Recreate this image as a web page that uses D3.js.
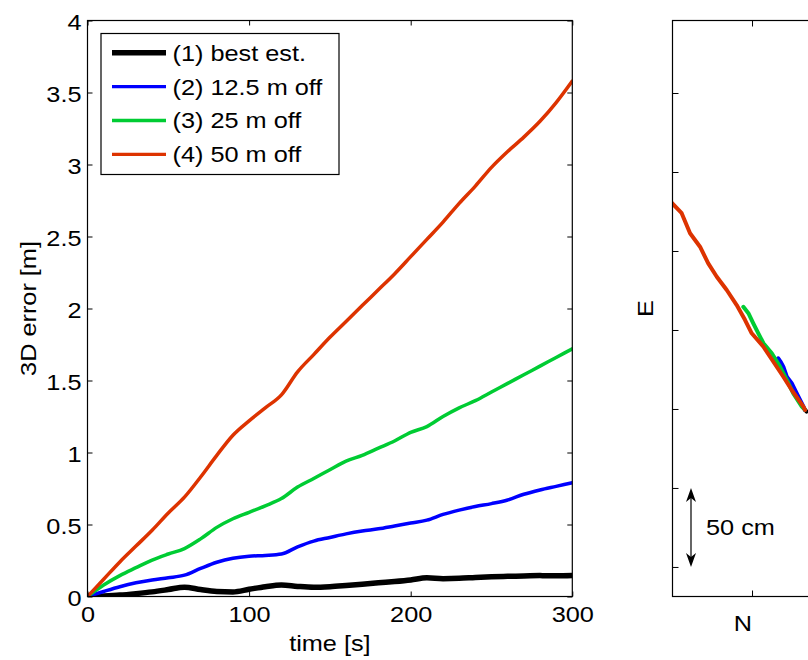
<!DOCTYPE html>
<html>
<head>
<meta charset="utf-8">
<script src="https://cdn.jsdelivr.net/npm/d3@7"></script>
<style>
  body { margin: 0; background: #fff; }
  svg { display: block; }
  text { font-family: "Liberation Sans", Arial, sans-serif; font-size: 22px; fill: #000; }
  .axis path { display: none; }
  .axis line { stroke: #000; stroke-width: 1; }
  .frame { fill: none; stroke: #000; stroke-width: 1.2; }
  .line { fill: none; stroke-linejoin: round; stroke-linecap: round; }
</style>
</head>
<body>
<div id="chart"></div>
<script>
// ---- left panel: 3D error over time ----
const times = [0, 10, 20, 30, 40, 50, 60, 70, 80, 90, 100, 110, 120, 130, 140, 150,
               160, 170, 180, 190, 200, 210, 220, 230, 240, 250, 260, 270, 280, 290, 300];
const errBest = [0, 0.004, 0.01, 0.02, 0.032, 0.048, 0.065, 0.048, 0.035, 0.032, 0.05, 0.068, 0.08, 0.07, 0.064, 0.068,
                 0.076, 0.085, 0.095, 0.104, 0.115, 0.13, 0.124, 0.126, 0.132, 0.137, 0.14, 0.142, 0.145, 0.144, 0.146];
const err12 = [0, 0.035, 0.068, 0.095, 0.115, 0.13, 0.148, 0.195, 0.238, 0.266, 0.28, 0.285, 0.295, 0.345, 0.385, 0.41,
               0.435, 0.455, 0.47, 0.49, 0.51, 0.53, 0.57, 0.60, 0.625, 0.645, 0.67, 0.71, 0.74, 0.765, 0.79];
const err25 = [0, 0.08, 0.145, 0.20, 0.253, 0.295, 0.333, 0.40, 0.48, 0.54, 0.585, 0.63, 0.68, 0.76, 0.82, 0.88,
               0.94, 0.98, 1.03, 1.08, 1.14, 1.18, 1.25, 1.31, 1.36, 1.42, 1.48, 1.54, 1.60, 1.66, 1.72];
const err50 = [0, 0.12, 0.24, 0.35, 0.46, 0.58, 0.69, 0.83, 0.98, 1.12, 1.22, 1.31, 1.40, 1.56, 1.68, 1.80,
               1.91, 2.02, 2.13, 2.24, 2.36, 2.48, 2.60, 2.73, 2.85, 2.98, 3.09, 3.19, 3.30, 3.43, 3.58];

const seriesNames = ["(1) best est.", "(2) 12.5 m off", "(3) 25 m off", "(4) 50 m off"];
const seriesColors = ["#000000", "#0000ff", "#00cc33", "#dd3300"];
const xTicks = [0, 100, 200, 300];
const yTicks = [0, 0.5, 1, 1.5, 2, 2.5, 3, 3.5, 4];

// ---- right panel: horizontal tracks (N, E in metres) ----
const trackNBest = [0.335, 0.345];
const trackEBest = [0.994, 0.984];
const trackN12 = [0.166, 0.180, 0.198, 0.220, 0.251, 0.283, 0.315, 0.335];
const trackE12 = [1.321, 1.300, 1.268, 1.204, 1.163, 1.099, 1.036, 0.994];
const trackN25 = [-0.055, -0.023, 0.008, 0.040, 0.072, 0.125, 0.177, 0.220, 0.261, 0.315, 0.335];
const trackE25 = [1.647, 1.606, 1.542, 1.479, 1.416, 1.353, 1.268, 1.184, 1.099, 1.015, 0.994];
const trackN50 = [-0.510, -0.445, -0.392, -0.329, -0.277, -0.223, -0.160, -0.097, -0.044, -0.002,
                  0.072, 0.135, 0.198, 0.251, 0.325, 0.335];
const trackE50 = [2.307, 2.239, 2.112, 2.027, 1.922, 1.837, 1.753, 1.658, 1.563, 1.479,
                  1.394, 1.299, 1.204, 1.120, 1.015, 0.994];
const eTicks = [0, 0.5, 1, 1.5, 2, 2.5, 3];
const nTicks = [0, 0.5];
const scaleBarE = [0, 0.5];   // 50 cm arrow
const scaleBarN = -0.386;

const W = 808, H = 660;
const svg = d3.select("#chart").append("svg")
    .attr("width", W)
    .attr("height", H);

// the source font is a little wider than Liberation Sans
function stretch(sel) {
    sel.each(function() {
        const t = d3.select(this);
        const x = +t.attr("x") || 0;
        const prev = t.attr("transform") || "";
        t.attr("transform", prev + " translate(" + x + ",0) scale(1.15,1) translate(" + (-x) + ",0)");
    });
}

// ================= left panel =================
const left = { x0: 87.5, x1: 572.3, y0: 20.5, y1: 596.5 };

const xScale = d3.scaleLinear().domain([0, 300]).range([left.x0, left.x1]);
const yScale = d3.scaleLinear().domain([0, 4]).range([left.y1, left.y0]);

svg.append("clipPath").attr("id", "clipL")
  .append("rect")
    .attr("x", left.x0).attr("y", left.y0)
    .attr("width", left.x1 - left.x0).attr("height", left.y1 - left.y0);

const errSeries = [errBest, err12, err25, err50];
const widthsL = [5.5, 3.5, 3.5, 3.5];

const lineL = d3.line()
    .x((d, i) => xScale(times[i]))
    .y(d => yScale(d))
    .curve(d3.curveMonotoneX);

svg.append("g").attr("clip-path", "url(#clipL)")
  .selectAll(".line")
  .data(errSeries)
  .enter().append("path")
    .attr("class", "line")
    .attr("d", lineL)
    .attr("stroke", (d, i) => seriesColors[i])
    .attr("stroke-width", (d, i) => widthsL[i]);

// axes, ticks pointing inward
svg.append("g").attr("class", "axis")
    .attr("transform", "translate(0," + left.y1 + ")")
    .call(d3.axisBottom(xScale).tickValues(xTicks).tickSizeInner(-5).tickSizeOuter(0).tickPadding(10).tickFormat(d => d));
svg.append("g").attr("class", "axis")
    .attr("transform", "translate(0," + left.y0 + ")")
    .call(d3.axisTop(xScale).tickValues(xTicks).tickSizeInner(-5).tickSizeOuter(0).tickFormat(""));
svg.append("g").attr("class", "axis")
    .attr("transform", "translate(" + left.x0 + ",0)")
    .call(d3.axisLeft(yScale).tickValues(yTicks).tickSizeInner(-5).tickSizeOuter(0).tickPadding(6).tickFormat(d => String(d)))
    .selectAll("text").attr("dy", "0.4em");
svg.append("g").attr("class", "axis")
    .attr("transform", "translate(" + left.x1 + ",0)")
    .call(d3.axisRight(yScale).tickValues(yTicks).tickSizeInner(-5).tickSizeOuter(0).tickFormat(""));

svg.append("rect").attr("class", "frame")
    .attr("x", left.x0).attr("y", left.y0)
    .attr("width", left.x1 - left.x0).attr("height", left.y1 - left.y0);

svg.append("text")
    .attr("x", (left.x0 + left.x1) / 2).attr("y", 651)
    .attr("text-anchor", "middle")
    .text("time [s]");
svg.append("text")
    .attr("transform", "translate(36," + (left.y0 + left.y1) / 2 + ") rotate(-90)")
    .attr("text-anchor", "middle")
    .text("3D error [m]");

// legend
const legend = svg.append("g").attr("transform", "translate(101,33.5)");
legend.append("rect")
    .attr("width", 238).attr("height", 141)
    .attr("fill", "#fff").attr("stroke", "#000").attr("stroke-width", 1.2);
const rows = legend.selectAll(".row")
    .data(seriesNames)
    .enter().append("g")
    .attr("transform", (d, i) => "translate(0," + (19.2 + i * 33.9) + ")");
rows.append("line")
    .attr("x1", 11).attr("x2", 65)
    .attr("stroke", (d, i) => seriesColors[i])
    .attr("stroke-width", (d, i) => i === 0 ? 5.5 : 3.3);
rows.append("text")
    .attr("x", 71.5).attr("dy", "0.36em")
    .text(d => d);

// ================= right panel =================
const right = { x0: 672.5, x1: 814, y0: 20.5, y1: 596.5 };

const nScale = d3.scaleLinear().domain([-0.503, 0.392]).range([right.x0, right.x1]);
const eScale = d3.scaleLinear().domain([-0.187, 3.459]).range([right.y1, right.y0]);

svg.append("clipPath").attr("id", "clipR")
  .append("rect")
    .attr("x", right.x0).attr("y", right.y0)
    .attr("width", right.x1 - right.x0).attr("height", right.y1 - right.y0);

const tracks = [
    [trackNBest, trackEBest],
    [trackN12, trackE12],
    [trackN25, trackE25],
    [trackN50, trackE50]
];

const lineR = d3.line()
    .x(d => nScale(d[0]))
    .y(d => eScale(d[1]));

svg.append("g").attr("clip-path", "url(#clipR)")
  .selectAll(".track")
  .data(tracks)
  .enter().append("path")
    .attr("class", "line track")
    .attr("d", t => lineR(t[0].map((n, i) => [n, t[1][i]])))
    .attr("stroke", (d, i) => seriesColors[i])
    .attr("stroke-width", 4);

svg.append("g").attr("class", "axis")
    .attr("transform", "translate(0," + right.y1 + ")")
    .call(d3.axisBottom(nScale).tickValues(nTicks).tickSizeInner(-6).tickSizeOuter(0).tickFormat(""));
svg.append("g").attr("class", "axis")
    .attr("transform", "translate(0," + right.y0 + ")")
    .call(d3.axisTop(nScale).tickValues(nTicks).tickSizeInner(-6).tickSizeOuter(0).tickFormat(""));
svg.append("g").attr("class", "axis")
    .attr("transform", "translate(" + right.x0 + ",0)")
    .call(d3.axisLeft(eScale).tickValues(eTicks).tickSizeInner(-6).tickSizeOuter(0).tickFormat(""));
svg.append("g").attr("class", "axis")
    .attr("transform", "translate(" + right.x1 + ",0)")
    .call(d3.axisRight(eScale).tickValues(eTicks).tickSizeInner(-6).tickSizeOuter(0).tickFormat(""));

svg.append("rect").attr("class", "frame")
    .attr("x", right.x0).attr("y", right.y0)
    .attr("width", right.x1 - right.x0).attr("height", right.y1 - right.y0);

svg.append("text")
    .attr("x", 743).attr("y", 631)
    .attr("text-anchor", "middle")
    .text("N");
svg.append("text")
    .attr("transform", "translate(653," + (right.y0 + right.y1) / 2 + ") rotate(-90)")
    .attr("text-anchor", "middle")
    .text("E");

// 50 cm scale arrow
const ax = nScale(scaleBarN);
const aTop = eScale(scaleBarE[1]);
const aBot = eScale(scaleBarE[0]);
svg.append("line")
    .attr("x1", ax).attr("x2", ax)
    .attr("y1", aTop + 6).attr("y2", aBot - 6)
    .attr("stroke", "#000").attr("stroke-width", 1.2);
const head = "M0,0 L5,14 L0,10 L-5,14 Z";
svg.append("path").attr("d", head)
    .attr("transform", "translate(" + ax + "," + aTop + ")");
svg.append("path").attr("d", head)
    .attr("transform", "translate(" + ax + "," + aBot + ") rotate(180)");
svg.append("text")
    .attr("x", ax + 15).attr("y", (aTop + aBot) / 2 + 8)
    .text("50 cm");

stretch(svg.selectAll("text"));
</script>
</body>
</html>
